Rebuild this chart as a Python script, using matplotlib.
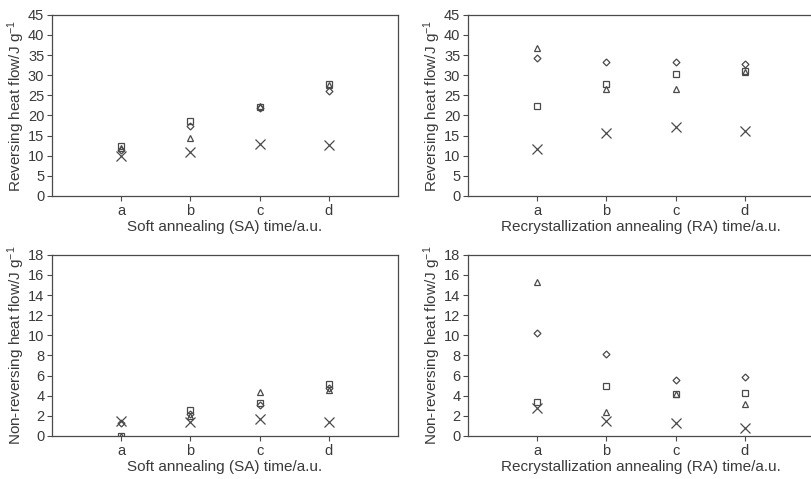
import matplotlib
matplotlib.use("Agg")
import matplotlib.pyplot as plt

plt.rcParams["font.family"] = ["Liberation Sans", "DejaVu Sans"]
plt.rcParams["mathtext.fontset"] = "custom"
plt.rcParams["mathtext.rm"] = "Liberation Sans"
plt.rcParams["mathtext.it"] = "Liberation Sans:italic"

categories = ["a", "b", "c", "d"]
xpos = [1, 2, 3, 4]

# reversing heat flow, soft annealing
sa_rev_square = [12.5, 18.5, 22.0, 27.8]
sa_rev_diamond = [11.5, 17.3, 21.8, 26.0]
sa_rev_triangle = [12.0, 14.5, 22.3, 27.5]
sa_rev_cross = [10.0, 11.0, 12.8, 12.7]

# reversing heat flow, recrystallization annealing
ra_rev_square = [22.4, 27.8, 30.2, 31.0]
ra_rev_diamond = [34.3, 33.2, 33.4, 32.9]
ra_rev_triangle = [36.8, 26.5, 26.5, 30.8]
ra_rev_cross = [11.6, 15.6, 17.1, 16.2]

# non-reversing heat flow, soft annealing
sa_nrev_square = [0.0, 2.6, 3.3, 5.2]
sa_nrev_diamond = [1.3, 2.2, 3.1, 4.8]
sa_nrev_triangle = [0.0, 2.0, 4.4, 4.6]
sa_nrev_cross = [1.5, 1.4, 1.7, 1.4]

# non-reversing heat flow, recrystallization annealing
ra_nrev_square = [3.4, 5.0, 4.2, 4.3]
ra_nrev_diamond = [10.2, 8.1, 5.6, 5.9]
ra_nrev_triangle = [15.3, 2.4, 4.2, 3.2]
ra_nrev_cross = [2.8, 1.5, 1.3, 0.8]

grey = "#4a4a4a"
text_col = "#3a3a3a"

fig = plt.figure(figsize=(8.11, 4.79), dpi=100)

panels = [
    ([0.064, 0.591, 0.427, 0.378], (sa_rev_square, sa_rev_diamond, sa_rev_triangle, sa_rev_cross),
     45, 5, "Reversing heat flow/J g$^{-1}$", "Soft annealing (SA) time/a.u."),
    ([0.577, 0.591, 0.427, 0.378], (ra_rev_square, ra_rev_diamond, ra_rev_triangle, ra_rev_cross),
     45, 5, "Reversing heat flow/J g$^{-1}$", "Recrystallization annealing (RA) time/a.u."),
    ([0.064, 0.090, 0.427, 0.378], (sa_nrev_square, sa_nrev_diamond, sa_nrev_triangle, sa_nrev_cross),
     18, 2, "Non-reversing heat flow/J g$^{-1}$", "Soft annealing (SA) time/a.u."),
    ([0.577, 0.090, 0.427, 0.378], (ra_nrev_square, ra_nrev_diamond, ra_nrev_triangle, ra_nrev_cross),
     18, 2, "Non-reversing heat flow/J g$^{-1}$", "Recrystallization annealing (RA) time/a.u."),
]

for rect, series, ymax, step, ylabel, xlabel in panels:
    ax = fig.add_axes(rect)
    sq, di, tr, cr = series
    ax.plot(xpos, sq, ls="none", marker="s", ms=4, mfc="none", mec=grey, mew=0.9)
    ax.plot(xpos, di, ls="none", marker="D", ms=3.5, mfc="none", mec=grey, mew=0.9)
    ax.plot(xpos, tr, ls="none", marker="^", ms=4.5, mfc="none", mec=grey, mew=0.9)
    ax.plot(xpos, cr, ls="none", marker="x", ms=6.5, mec=grey, mew=0.9)
    ax.set_xlim(0, 5)
    ax.set_ylim(0, ymax)
    ax.set_yticks(range(0, ymax + 1, step))
    ax.set_xticks(xpos)
    ax.set_xticklabels(categories)
    ax.tick_params(axis="both", direction="out", length=3.5, width=0.8, colors=grey,
                   labelcolor=text_col, labelsize=10.5, pad=2)
    for sp in ax.spines.values():
        sp.set_color(grey)
        sp.set_linewidth(0.9)
    ax.set_ylabel(ylabel, fontsize=11, color=text_col, labelpad=1)
    ax.set_xlabel(xlabel, fontsize=11, color=text_col, labelpad=2)

fig.savefig("out.png", dpi=100)
